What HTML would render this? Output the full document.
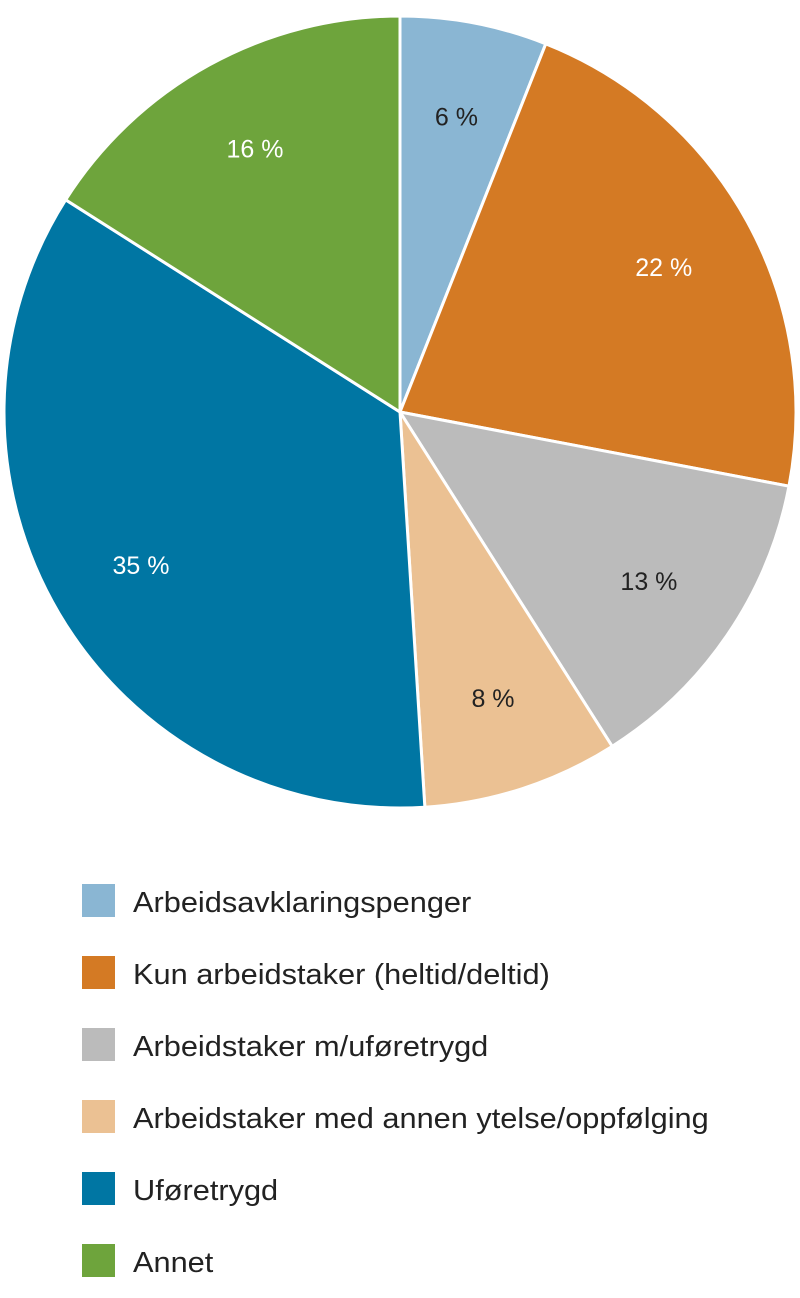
<!DOCTYPE html>
<html><head><meta charset="utf-8"><style>
body{margin:0;background:#fff;width:800px;height:1293px;overflow:hidden;font-family:"Liberation Sans",sans-serif}
</style></head><body>
<svg id="chart" width="800" height="1293" xmlns="http://www.w3.org/2000/svg"></svg>
<script>
const categories=["Arbeidsavklaringspenger","Kun arbeidstaker (heltid/deltid)","Arbeidstaker m/uføretrygd","Arbeidstaker med annen ytelse/oppfølging","Uføretrygd","Annet"];
const values=[6,22,13,8,35,16];
const valueLabels=["6 %","22 %","13 %","8 %","35 %","16 %"];
const colors=["#8ab6d3","#d47a24","#bbbbbb","#ebc193","#0076a3","#6ea43c"];
const labelColors=["#222","#fff","#222","#222","#fff","#fff"];
const svg=document.getElementById('chart');
const NS="http://www.w3.org/2000/svg";
const cx=400,cy=412,r=396;
const total=values.reduce((a,b)=>a+b,0);
function pt(a,rad){return [cx+rad*Math.sin(a),cy-rad*Math.cos(a)];}
let acc=0;
values.forEach((v,i)=>{
  const a0=acc/total*2*Math.PI;acc+=v;const a1=acc/total*2*Math.PI;
  const p0=pt(a0,r),p1=pt(a1,r);
  const path=document.createElementNS(NS,'path');
  path.setAttribute('d',`M${cx},${cy}L${p0[0]},${p0[1]}A${r},${r} 0 ${a1-a0>Math.PI?1:0} 1 ${p1[0]},${p1[1]}Z`);
  path.setAttribute('fill',colors[i]);path.setAttribute('stroke','#fff');path.setAttribute('stroke-width','3');
  
  
  svg.appendChild(path);
  const am=(a0+a1)/2,lp=pt(am,r*0.76);
  const t=document.createElementNS(NS,'text');
  t.setAttribute('x',lp[0]);t.setAttribute('y',lp[1]+9);t.setAttribute('text-anchor','middle');
  t.setAttribute('font-size','25');t.setAttribute('fill',labelColors[i]);
  t.textContent=valueLabels[i];
  
  
  svg.appendChild(t);
});
categories.forEach((c,i)=>{
  const y=884+i*72;
  const rect=document.createElementNS(NS,'rect');
  rect.setAttribute('x',82);rect.setAttribute('y',y);rect.setAttribute('width',33);rect.setAttribute('height',33);rect.setAttribute('fill',colors[i]);
  
  
  svg.appendChild(rect);
  const t=document.createElementNS(NS,'text');
  t.setAttribute('x',133);t.setAttribute('y',y+28);t.setAttribute('font-size','29');t.setAttribute('fill','#222');
  t.setAttribute('transform',`translate(133,0) scale(1.06,1) translate(-133,0)`);
  t.textContent=c;
  
  
  svg.appendChild(t);
});
</script>
</body></html>
